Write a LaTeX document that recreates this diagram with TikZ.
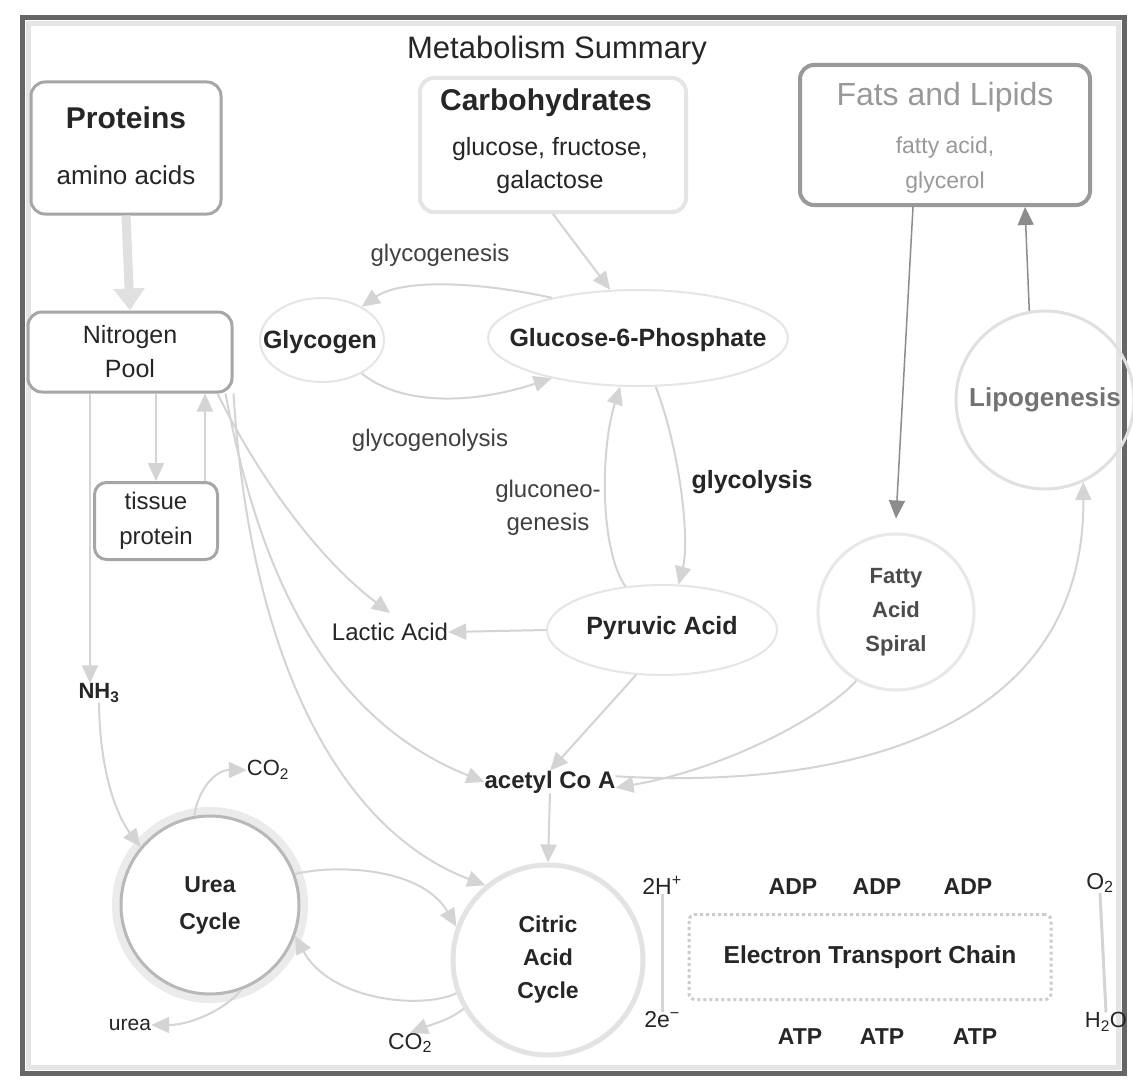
\documentclass[tikz,border=0pt]{standalone}
\usepackage{fontspec}
\setmainfont{Liberation Sans}
\usetikzlibrary{arrows.meta,shapes.geometric,calc}
\begin{document}
\begin{tikzpicture}[x=1pt,y=-1pt,
  every node/.style={inner sep=0pt, text=black!85, align=center},
  box/.style={draw=black!35, line width=3pt, rounded corners=14pt, fill=white},
  faintbox/.style={draw=black!10, line width=4pt, rounded corners=14pt, fill=white},
  oval/.style={ellipse, draw=black!10, line width=2pt},
  ring/.style={circle, draw=black!12, line width=3pt},
  cn/.style={draw=black!17, line width=2pt, -{Triangle[length=18pt,width=16pt]}},
  cnd/.style={draw=black!45, line width=1.5pt, -{Triangle[length=18pt,width=16pt]}},
  bigarrow/.style={draw=black!12, line width=9pt, -{Triangle[length=22pt,width=30pt]}},
  plain/.style={draw=black!17, line width=3pt}
]
\useasboundingbox (0,0) rectangle (1133,1081);
\fill[white] (0,0) rectangle (1133,1081);
% frame
\draw[black!10, line width=5pt] (28,24) rectangle (1118,1067);
\draw[black!60, line width=5pt] (22,18) rectangle (1124,1073);

% title
\node[font=\fontsize{31}{36}\selectfont] (title) at (557,50) {Metabolism Summary};

% boxes
\node[box, minimum width=190pt, minimum height=132pt] (proteins) at (126,148) {};
\node[font=\bfseries\fontsize{30}{36}\selectfont] (protT) at (126,118) {Proteins};
\node[font=\fontsize{26}{30}\selectfont] (protS) at (126,175) {amino acids};

\node[faintbox, minimum width=266pt, minimum height=134pt] (carbs) at (553,145) {};
\node[font=\bfseries\fontsize{30}{36}\selectfont] (carbT) at (546,103) {Carbohydrates};
\node[font=\fontsize{25}{33}\selectfont] (carbS) at (550,166) {glucose, fructose,\\galactose};

\node[box, draw=black!40, line width=4pt, minimum width=290pt, minimum height=140pt] (fats) at (945,135) {};
\node[font=\fontsize{32}{36}\selectfont, text=black!40] (fatsT) at (945,97) {Fats and Lipids};
\node[font=\fontsize{23}{35}\selectfont, text=black!40] (fatsS) at (945,165) {fatty acid,\\glycerol};

\node[box, minimum width=204pt, minimum height=80pt, font=\fontsize{25}{34}\selectfont] (nitro) at (130,352) {Nitrogen\\Pool};
\node[box, rounded corners=12pt, minimum width=123pt, minimum height=77pt, font=\fontsize{24}{35}\selectfont] (tissue) at (156,521) {tissue\\protein};

% carbohydrate pathway
\node[oval, minimum width=124pt, minimum height=84pt] (glyE) at (322,340) {};
\node[font=\bfseries\fontsize{25}{30}\selectfont] (glycogen) at (320,342) {Glycogen};
\node[oval, minimum width=300pt, minimum height=96pt] (g6pE) at (638,338) {};
\node[font=\bfseries\fontsize{25}{30}\selectfont] (g6p) at (638,340) {Glucose-6-Phosphate};
\node[font=\fontsize{24}{30}\selectfont, text=black!75] (glycogenesis) at (440,255) {glycogenesis};
\node[font=\fontsize{24}{30}\selectfont, text=black!75] (glycogenolysis) at (430,440) {glycogenolysis};
\node[font=\fontsize{24}{33}\selectfont, text=black!75] (gluconeo) at (548,508) {gluconeo-\\genesis};
\node[font=\bfseries\fontsize{25}{30}\selectfont] (glycolysis) at (752,482) {glycolysis};
\node[oval, minimum width=230pt, minimum height=90pt] (pyrE) at (662,630) {};
\node[font=\bfseries\fontsize{25}{30}\selectfont] (pyruvic) at (662,628) {Pyruvic Acid};
\node[font=\fontsize{24}{30}\selectfont] (lactic) at (390,632) {Lactic Acid};
\node[font=\bfseries\fontsize{24}{30}\selectfont] (acetyl) at (550,782) {acetyl Co A};

% lipids
\node[ring, minimum size=178pt, font=\bfseries\fontsize{26}{30}\selectfont, text=black!55] (lipo) at (1045,400) {Lipogenesis};
\node[ring, draw=black!9, minimum size=156pt, font=\bfseries\fontsize{22}{34}\selectfont, text=black!70] (fas) at (896,612) {Fatty\\Acid\\Spiral};

% nitrogen side
\node[font=\bfseries\fontsize{22}{26}\selectfont] (nh3) at (99,693) {NH\textsubscript{3}};
\node[font=\fontsize{22}{26}\selectfont] (co2a) at (268,770) {CO\textsubscript{2}};
\node[circle, draw=black!8, line width=10pt, minimum size=186pt] (ureaS) at (210,905) {};
\node[circle, draw=black!28, line width=3pt, fill=white, minimum size=178pt, font=\bfseries\fontsize{23}{37}\selectfont] (urea) at (210,905) {Urea\\Cycle};
\node[font=\fontsize{21}{24}\selectfont] (ureaT) at (130,1025) {urea};
\node[font=\fontsize{23}{26}\selectfont] (co2b) at (410,1043) {CO\textsubscript{2}};
\node[circle, draw=black!11, line width=5pt, fill=white, minimum size=190pt, font=\bfseries\fontsize{23}{33}\selectfont] (citric) at (548,960) {Citric\\Acid\\Cycle};

% electron transport chain
\node[draw=black!20, dashed, line width=3pt, rounded corners=6pt, minimum width=362pt, minimum height=85pt, font=\bfseries\fontsize{24.5}{28}\selectfont] (etc) at (870,957) {Electron Transport Chain};
\node[font=\fontsize{23}{26}\selectfont] (h2) at (662,885) {2H\textsuperscript{+}};
\node[font=\fontsize{23}{26}\selectfont] (e2) at (662,1020) {2e\textsuperscript{−}};
\node[font=\bfseries\fontsize{23}{26}\selectfont] (adp1) at (793,887) {ADP};
\node[font=\bfseries\fontsize{23}{26}\selectfont] (adp2) at (877,887) {ADP};
\node[font=\bfseries\fontsize{23}{26}\selectfont] (adp3) at (968,887) {ADP};
\node[font=\bfseries\fontsize{23}{26}\selectfont] (atp1) at (800,1037) {ATP};
\node[font=\bfseries\fontsize{23}{26}\selectfont] (atp2) at (882,1037) {ATP};
\node[font=\bfseries\fontsize{23}{26}\selectfont] (atp3) at (975,1037) {ATP};
\node[font=\fontsize{23}{26}\selectfont] (o2) at (1100,883) {O\textsubscript{2}};
\node[font=\fontsize{22}{26}\selectfont] (h2o) at (1106,1022) {H\textsubscript{2}O};

% connectors
\draw[bigarrow] (proteins.south) -- (nitro.north);
\draw[cn] (tissue.north |- nitro.south) -- (tissue.north);
\draw[cn] ([xshift=-14pt]tissue.north east) -- ([xshift=-14pt]tissue.north east |- nitro.south);
\draw[cn] ([xshift=-9pt]nh3.north |- nitro.south) -- ([xshift=-9pt]nh3.north);
\draw[cn] (nh3.south) .. controls (100,780) and (120,820) .. (urea.140);
\draw[cn] (urea.100) .. controls (198,790) and (215,770) .. (co2a.west);
\draw[cn] (urea.-70) .. controls (225,1010) and (190,1025) .. (ureaT.east);
\draw[cn] (urea.20) .. controls (330,865) and (420,865) .. (citric.160);
\draw[cn] (citric.200) .. controls (420,1010) and (330,1000) .. (urea.-20);
\draw[cn] ([xshift=-16pt]nitro.south east) .. controls (260,480) and (320,560) .. ([yshift=10pt]lactic.north);
\draw[cn] ([xshift=-8pt]nitro.south east) .. controls (260,580) and (330,720) .. (acetyl.west);
\draw[cn] (nitro.south east) .. controls (250,660) and (340,830) .. (citric.130);
\draw[cn] (carbs.south) -- (g6pE.120);
\draw[cn] (g6pE.155) .. controls (470,280) and (400,280) .. (glyE.40);
\draw[cn] (glyE.-40) .. controls (400,405) and (470,405) .. (g6pE.-155);
\draw[cn] (g6pE.-70) .. controls (680,450) and (690,540) .. (pyrE.70);
\draw[cn] (pyrE.130) .. controls (600,550) and (600,450) .. (g6pE.-110);
\draw[cn] (pyrE.west) -- (lactic.east);
\draw[cn] (pyrE.240) -- (acetyl.north);
\draw[cn] (acetyl.south) -- (citric.north);
\draw[cn] (acetyl.5) .. controls (850,790) and (1085,730) .. (lipo.-65);
\draw[cn] (fas.-120) .. controls (820,720) and (720,770) .. (acetyl.-5);
\draw[cnd] ([xshift=-32pt]fats.south) -- ([yshift=14pt]fas.north);
\draw[cnd] (lipo.100) -- ([xshift=80pt]fats.south);
\draw[cn] (citric.210) .. controls (450,1020) and (430,1025) .. (co2b.north);
\draw[plain] (h2.south) -- (e2.north);
\draw[plain] (o2.south) -- (h2o.north);
\end{tikzpicture}
\end{document}
